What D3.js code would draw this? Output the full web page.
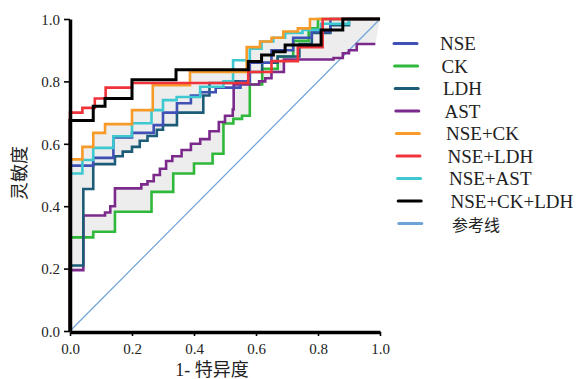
<!DOCTYPE html>
<html>
<head>
<meta charset="utf-8">
<script src="https://cdn.jsdelivr.net/npm/d3@7"></script>
<style>
  body { margin: 0; background: #fff; }
  text { font-family: "Liberation Serif", "Noto Sans CJK SC", serif; fill: #222; }
</style>
</head>
<body>
<div id="chart"></div>
<script>
//ROC step points [1-specificity, sensitivity]
const nsePts = [[0,0],[0,0.53],[0.075,0.555],[0.14,0.62],[0.2,0.635],[0.27,0.66],[0.30,0.70],[0.345,0.73],[0.39,0.755],[0.42,0.765],[0.47,0.78],[0.55,0.80],[0.58,0.86],[0.65,0.90],[0.72,0.94],[0.78,0.96],[0.84,1.0],[1,1]];
const ckPts = [[0,0],[0,0.30],[0.075,0.318],[0.145,0.382],[0.263,0.446],[0.333,0.505],[0.40,0.537],[0.46,0.568],[0.495,0.665],[0.527,0.68],[0.555,0.69],[0.58,0.79],[0.62,0.84],[0.67,0.88],[0.72,0.93],[0.77,0.97],[0.8,1.0],[1,1]];
const ldhPts = [[0,0],[0,0.21],[0.043,0.455],[0.075,0.535],[0.145,0.56],[0.17,0.575],[0.2,0.59],[0.225,0.61],[0.25,0.625],[0.28,0.645],[0.30,0.66],[0.345,0.70],[0.43,0.755],[0.45,0.795],[0.53,0.80],[0.58,0.83],[0.62,0.86],[0.67,0.88],[0.74,0.92],[0.78,0.955],[0.84,0.98],[0.9,1.0],[1,1]];
const astPts = [[0,0],[0,0.195],[0.043,0.37],[0.113,0.38],[0.13,0.40],[0.145,0.457],[0.23,0.47],[0.25,0.48],[0.27,0.50],[0.29,0.52],[0.31,0.545],[0.33,0.56],[0.36,0.58],[0.39,0.60],[0.42,0.615],[0.45,0.64],[0.48,0.67],[0.50,0.69],[0.525,0.71],[0.528,0.79],[0.61,0.80],[0.63,0.81],[0.65,0.83],[0.69,0.87],[0.85,0.875],[0.88,0.89],[0.90,0.90],[0.925,0.92],[0.985,0.92]];
const nseCkPts = [[0,0],[0,0.55],[0.04,0.59],[0.075,0.635],[0.113,0.663],[0.2,0.708],[0.267,0.788],[0.387,0.83],[0.57,0.91],[0.613,0.928],[0.65,0.94],[0.688,0.96],[0.735,0.97],[0.774,1.0],[1,1]];
const nseLdhPts = [[0,0],[0,0.70],[0.04,0.715],[0.08,0.745],[0.115,0.78],[0.2,0.795],[0.575,0.83],[0.65,0.865],[0.735,0.91],[0.815,1.0],[1,1]];
const nseAstPts = [[0,0],[0,0.505],[0.04,0.548],[0.075,0.587],[0.14,0.624],[0.2,0.666],[0.263,0.708],[0.30,0.74],[0.344,0.75],[0.42,0.783],[0.495,0.80],[0.526,0.868],[0.58,0.905],[0.618,0.928],[0.656,0.94],[0.694,0.955],[0.75,0.965],[0.81,0.985],[0.9,1.0],[1,1]];
const nseCkLdhPts = [[0,0],[0,0.675],[0.075,0.72],[0.113,0.745],[0.2,0.805],[0.342,0.837],[0.575,0.864],[0.618,0.885],[0.656,0.895],[0.694,0.917],[0.81,0.965],[0.88,1.0],[1,1]];
const refPts = [[0,0],[1,1]];

const seriesNames = ['NSE', 'CK', 'LDH', 'AST', 'NSE+CK', 'NSE+LDH', 'NSE+AST', 'NSE+CK+LDH', '参考线'];
const seriesColors = ['#3f51b5', '#2fb83a', '#1d5c78', '#7b2a8c', '#f89a28', '#f0323a', '#3ec8cf', '#000000', '#6fa3d8'];
const seriesPts = [nsePts, ckPts, ldhPts, astPts, nseCkPts, nseLdhPts, nseAstPts, nseCkLdhPts, refPts];
const drawOrder = [1, 3, 2, 0, 6, 4, 5, 7]; //which curves sit on top
const axisTicks = [0, 0.2, 0.4, 0.6, 0.8, 1.0];

const width = 588, height = 379;
const svg = d3.select('#chart').append('svg')
    .attr('width', width).attr('height', height);

const x = d3.scaleLinear().domain([0, 1]).range([70, 380]);
const y = d3.scaleLinear().domain([0, 1]).range([331, 19]);

//expand step points into explicit corners (for grey bands)
function stepCorners(pts) {
    const out = [pts[0]];
    for (let i = 1; i < pts.length; i++) {
        out.push([pts[i][0], pts[i - 1][1]]);
        out.push(pts[i]);
    }
    return out;
}

const band = d3.line().x(d => x(d[0])).y(d => y(d[1])).curve(d3.curveLinearClosed);
//light grey fill between pairs of curves
[[nseCkPts, ldhPts], [astPts, ckPts]].forEach(function(pair) {
    const poly = stepCorners(pair[0]).concat(stepCorners(pair[1]).reverse());
    svg.append('path').attr('d', band(poly))
        .attr('fill', '#ededed').attr('stroke', 'none');
});

//reference diagonal
const line = d3.line().x(d => x(d[0])).y(d => y(d[1]));
svg.append('path').attr('d', line(refPts))
    .attr('fill', 'none').attr('stroke', seriesColors[8]).attr('stroke-width', 1.2);

//step curves
const stepLine = d3.line().x(d => x(d[0])).y(d => y(d[1])).curve(d3.curveStepAfter);
drawOrder.forEach(function(i) {
    svg.append('path').attr('d', stepLine(seriesPts[i]))
        .attr('fill', 'none')
        .attr('stroke', seriesColors[i])
        .attr('stroke-width', i === 7 ? 3 : 2.6);
});

//axes
const yAxis = svg.append('g').attr('transform', 'translate(70,0)')
    .call(d3.axisLeft(y).tickValues(axisTicks).tickFormat(d3.format('.1f')).tickSize(6).tickSizeOuter(0).tickPadding(4));
const xAxis = svg.append('g').attr('transform', 'translate(0,332)')
    .call(d3.axisBottom(x).tickValues(axisTicks).tickFormat(d3.format('.1f')).tickSize(4).tickSizeOuter(0).tickPadding(7));
[yAxis, xAxis].forEach(function(g) {
    g.select('.domain').attr('stroke', '#000').attr('stroke-width', 3.5);
    g.selectAll('.tick line').attr('stroke', '#000').attr('stroke-width', 1.6);
    g.selectAll('.tick text').style('font-size', '15px').style('font-family', 'Liberation Serif').attr('fill', '#333');
});
yAxis.selectAll('.tick text').attr('dy', '0.35em');

//axis titles
svg.append('text')
    .attr('transform', 'translate(26,173) rotate(-90)')
    .attr('text-anchor', 'middle')
    .style('font-size', '18px')
    .style('font-family', 'Noto Sans CJK SC')
    .attr('fill', '#333')
    .text('灵敏度');
svg.append('text')
    .attr('x', 212).attr('y', 376)
    .attr('text-anchor', 'middle')
    .style('font-size', '18px')
    .attr('fill', '#333')
    .text('1- 特异度');

//legend
const legend = svg.append('g');
seriesNames.forEach(function(name, i) {
    const ly = 43.5 + i * 22.5;
    const isCjk = name === '参考线';
    legend.append('line')
        .attr('x1', 394 + i * 0.6).attr('x2', 417 + i * 0.6)
        .attr('y1', ly).attr('y2', ly)
        .attr('stroke', seriesColors[i])
        .attr('stroke-width', 3)
        .attr('stroke-linecap', 'round');
    legend.append('text')
        .attr('x', 440 + i * 1.5).attr('y', ly)
        .attr('dy', isCjk ? '0.45em' : '0.35em')
        .style('font-size', isCjk ? '16px' : '19px')
        .style('font-family', isCjk ? 'Noto Sans CJK SC' : 'Liberation Serif')
        .attr('fill', '#222')
        .text(name);
});
</script>
</body>
</html>
